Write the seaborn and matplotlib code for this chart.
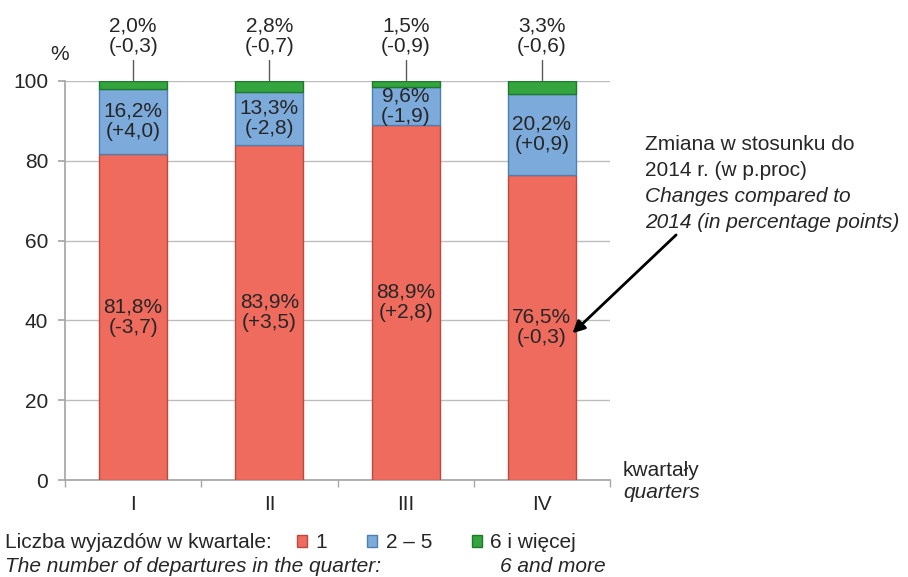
import matplotlib
matplotlib.use("Agg")
import matplotlib.pyplot as plt
import seaborn as sns
import pandas as pd

quarters = ["I", "II", "III", "IV"]
share_1 = [81.8, 83.9, 88.9, 76.5]
share_2_5 = [16.2, 13.3, 9.6, 20.2]
share_6plus = [2.0, 2.8, 1.5, 3.3]
chg_1 = [-3.7, 3.5, 2.8, -0.3]
chg_2_5 = [4.0, -2.8, -1.9, 0.9]
chg_6plus = [-0.3, -0.7, -0.9, -0.6]
yticks = [0, 20, 40, 60, 80, 100]

RED = "#EE6B5E"
BLUE = "#7BAADB"
GREEN = "#34A43E"

sns.set_theme(style="white")
plt.rcParams["font.family"] = ["Liberation Sans", "DejaVu Sans"]
FS = 15
LS = 1.1


def pl(v):
    return f"{v:.1f}".replace(".", ",")


def pl_chg(v):
    return f"({v:+.1f})".replace(".", ",")


df = pd.DataFrame({"q": quarters, "s1": share_1, "s2": share_2_5, "s3": share_6plus})
df["b2"] = df["s1"]
df["b3"] = df["s1"] + df["s2"]

fig = plt.figure(figsize=(9.08, 5.77), dpi=100)
ax = fig.add_axes([65 / 908, 1 - 480 / 577, 545 / 908, 399 / 577])

layers = [("s1", None, RED, "#B94A40", "1"),
          ("s2", "b2", BLUE, "#4F7FB0", "2 – 5"),
          ("s3", "b3", GREEN, "#1E7A2A", "6 i więcej")]
for col, bot, c, ec, lab in layers:
    kw = {} if bot is None else {"bottom": df[bot]}
    sns.barplot(data=df, x="q", y=col, color=c, saturation=1, width=0.5, errorbar=None,
                edgecolor=ec, linewidth=1.0, label=lab, ax=ax, zorder=3, **kw)

ax.set_ylim(0, 100)
ax.set_xlim(-0.5, 3.5)
ax.set_yticks(yticks)
ax.set_xlabel("")
ax.set_ylabel("")
ax.yaxis.grid(True, color="#BDBDBD", lw=1, zorder=0)
for s in ["top", "right"]:
    ax.spines[s].set_visible(False)
for s in ["left", "bottom"]:
    ax.spines[s].set_color("#A6A6A6")
ax.tick_params(axis="y", length=5, color="#A6A6A6", pad=7, labelsize=FS, left=True)
ax.tick_params(axis="x", which="major", length=0, pad=11, labelsize=FS)
ax.set_xticks([-0.5, 0.5, 1.5, 2.5, 3.5], minor=True)
ax.tick_params(axis="x", which="minor", length=5, color="#A6A6A6", bottom=True, direction="out")
if ax.get_legend() is not None:
    ax.get_legend().remove()

# segment labels
for i in range(4):
    ax.text(i, share_1[i] / 2, f"{pl(share_1[i])}%\n{pl_chg(chg_1[i])}",
            ha="center", va="center", fontsize=FS, linespacing=LS, zorder=5)
    ax.text(i, share_1[i] + share_2_5[i] / 2, f"{pl(share_2_5[i])}%\n{pl_chg(chg_2_5[i])}",
            ha="center", va="center", fontsize=FS, linespacing=LS, zorder=5)
    ax.plot([i, i], [100, 105.3], color="#595959", lw=1, clip_on=False, zorder=5)
    ax.text(i, 111.3, f"{pl(share_6plus[i])}%\n{pl_chg(chg_6plus[i])}",
            ha="center", va="center", fontsize=FS, linespacing=LS, clip_on=False)

fig.text(60 / 908, 1 - 55 / 577, "%", ha="center", va="center", fontsize=FS)
fig.text(623 / 908, 1 - 470 / 577, "kwartały", ha="left", va="center", fontsize=FS)
fig.text(623 / 908, 1 - 493 / 577, "quarters", ha="left", va="center", fontsize=FS, style="italic")

# note with arrow
fig.text(645 / 908, 1 - 145 / 577, "Zmiana w stosunku do", ha="left", va="center", fontsize=FS)
fig.text(645 / 908, 1 - 171 / 577, "2014 r. (w p.proc)", ha="left", va="center", fontsize=FS)
fig.text(645 / 908, 1 - 197 / 577, "Changes compared to", ha="left", va="center", fontsize=FS, style="italic")
fig.text(645 / 908, 1 - 222 / 577, "2014 (in percentage points)", ha="left", va="center", fontsize=FS, style="italic")
ax.annotate("", xy=(3.21, 36.3), xytext=(4.0, 61.9),
            arrowprops=dict(arrowstyle="-|>", color="black", lw=2, mutation_scale=18),
            annotation_clip=False)

# legend
fig.text(5 / 908, 1 - 543 / 577, "Liczba wyjazdów w kwartale:", ha="left", va="center", fontsize=FS)
fig.text(5 / 908, 1 - 566 / 577, "The number of departures in the quarter:", ha="left", va="center",
         fontsize=FS, style="italic")
fig.text(500 / 908, 1 - 566 / 577, "6 and more", ha="left", va="center", fontsize=FS, style="italic")
handles = [plt.Rectangle((0, 0), 1, 1, facecolor=c, edgecolor=ec, lw=1) for _, _, c, ec, _ in layers]
labels = [lab for *_, lab in layers]
fig.legend(handles, labels, loc="center left", bbox_to_anchor=(297 / 908, 1 - 543 / 577),
           ncol=3, frameon=False, fontsize=FS, handlelength=0.5, handleheight=0.5,
           handletextpad=0.4, columnspacing=1.9, borderpad=0, borderaxespad=0)

fig.savefig("out.png", dpi=100)
